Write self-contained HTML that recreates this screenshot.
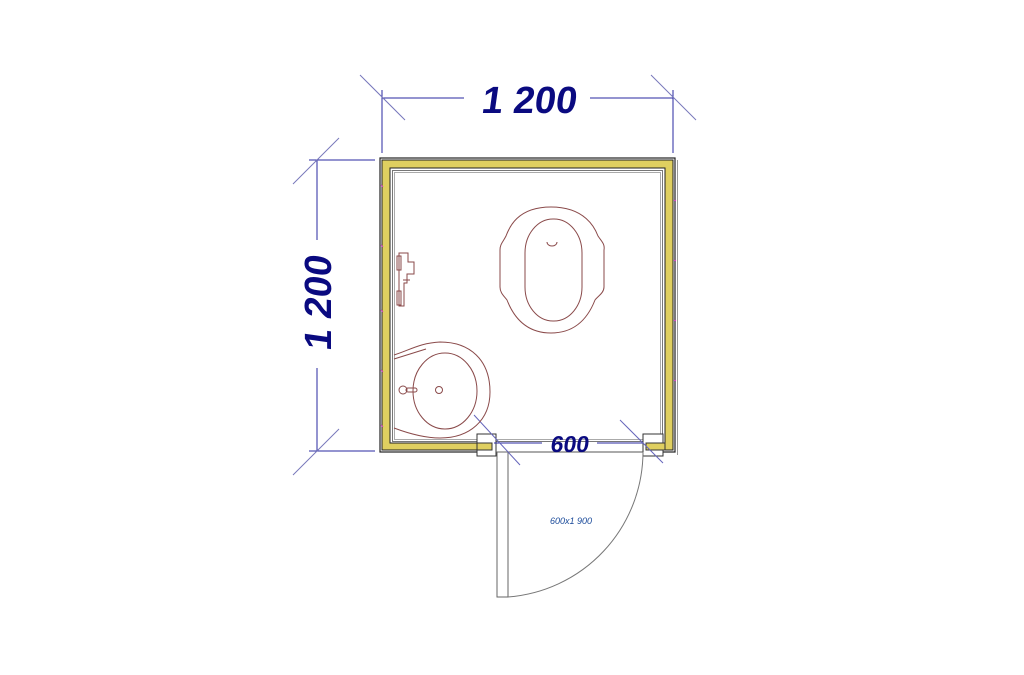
<!DOCTYPE html>
<html><head><meta charset="utf-8"><style>
html,body{margin:0;padding:0;background:#fff;width:1024px;height:675px;overflow:hidden}
svg{display:block}
.dim{font-family:"Liberation Sans",sans-serif;fill:#0a0a80;font-weight:bold}
</style></head><body>
<svg width="1024" height="675" viewBox="0 0 1024 675" xmlns="http://www.w3.org/2000/svg">
<!-- top dimension -->
<g stroke="#2a2aa0" stroke-width="1" fill="none">
<line x1="382" y1="98" x2="464" y2="98"/><line x1="590" y1="98" x2="673" y2="98"/>
<line x1="382" y1="90" x2="382" y2="153"/><line x1="673" y1="90" x2="673" y2="153"/>
<line x1="360" y1="75" x2="405" y2="120" stroke="#7777bb"/><line x1="651" y1="75" x2="696" y2="120" stroke="#7777bb"/>
<line x1="309" y1="160" x2="375" y2="160"/><line x1="309" y1="451" x2="375" y2="451"/>
<line x1="317" y1="160" x2="317" y2="240"/><line x1="317" y1="368" x2="317" y2="451"/>
<line x1="293" y1="184" x2="339" y2="138" stroke="#7777bb"/><line x1="293" y1="475" x2="339" y2="429" stroke="#7777bb"/>
</g>
<text class="dim" font-size="38" text-anchor="middle" transform="translate(528,113) skewX(-8)">1 200</text>
<text class="dim" font-size="38" text-anchor="middle" transform="translate(331,304) rotate(-90) skewX(-8)">1 200</text>

<!-- walls -->
<rect x="380" y="158" width="295" height="294" fill="#fff" stroke="#222" stroke-width="1.2"/>
<line x1="677.5" y1="160" x2="677.5" y2="455" stroke="#999"/>
<path d="M382,160 H673 V450 H645 V443 H665 V168 H390 V443 H492 V450 H382 Z" fill="#dfcf60" stroke="#222" stroke-width="1"/>
<rect x="392.5" y="170.5" width="270" height="271" fill="none" stroke="#777" stroke-width="1"/>
<rect x="394.5" y="172.5" width="266" height="267" fill="none" stroke="#aaa" stroke-width="1"/>
<!-- opening -->
<rect x="493" y="444" width="151" height="12" fill="#fff"/>
<rect x="477" y="434" width="19" height="22" fill="#fff" stroke="#333"/>
<rect x="477" y="443" width="15" height="7" fill="#dfcf60" stroke="#333"/>
<rect x="643" y="434" width="20" height="22" fill="#fff" stroke="#333"/>
<rect x="646" y="443" width="19" height="7" fill="#dfcf60" stroke="#333"/>
<line x1="496" y1="452" x2="643" y2="452" stroke="#555"/>

<!-- door -->
<rect x="497" y="452" width="11" height="145" fill="#fff" stroke="#666"/>
<path d="M508,597 A146,146 0 0 0 643,452" fill="none" stroke="#777" stroke-width="1"/>
<text x="571" y="524" font-family="Liberation Sans,sans-serif" font-size="9" font-style="italic" fill="#1a4a9a" text-anchor="middle">600x1 900</text>

<!-- 600 dimension -->
<g stroke="#2a2aa0" stroke-width="1">
<line x1="494" y1="443" x2="542" y2="443"/><line x1="597" y1="443" x2="643" y2="443"/>
<line x1="474" y1="415" x2="520" y2="465" stroke="#6666bb"/><line x1="620" y1="420" x2="663" y2="463" stroke="#6666bb"/>
</g>
<text class="dim" font-size="23" text-anchor="middle" transform="translate(569,452) skewX(-8)">600</text>

<!-- fixtures -->
<g fill="none" stroke="#8a4a4a" stroke-width="1">
<path d="M551,207 C585,207 595,228 598,236 C602,242 605,244 604,250 L604,287 C604,293 598,296 595,300 C588,318 575,333 551,333 C527,333 514,318 507,300 C504,296 500,293 500,287 L500,250 C500,244 503,242 506,236 C509,228 517,207 551,207 Z"/>
<rect x="525" y="219" width="57" height="102" rx="28" ry="34"/>
<path d="M547,242 A5,4 0 0 0 557,242"/>
<path d="M401,253 H408 V262 H414 V274 H407 V283 H404 V306 H399 V253 Z"/>
<rect x="397" y="256" width="4" height="14"/><rect x="397" y="291" width="4" height="14"/>
<line x1="403" y1="280" x2="410" y2="280"/>
<path d="M394,355 C410,350 420,343 440,342 C470,342 490,360 490,392 C490,420 470,438 440,438 C425,438 410,434 394,428"/>
<path d="M394,359 L426,349"/>
<ellipse cx="445" cy="391" rx="32" ry="38"/>
<circle cx="439" cy="390" r="3.5"/>
<circle cx="403" cy="390" r="4"/><rect x="406" y="388" width="11" height="4" rx="2"/>
</g>
<g stroke="#d040c0" stroke-width="1">
<line x1="381" y1="185" x2="383" y2="187"/><line x1="381" y1="245" x2="383" y2="247"/><line x1="381" y1="310" x2="383" y2="312"/><line x1="381" y1="370" x2="383" y2="372"/><line x1="381" y1="425" x2="383" y2="427"/>
<line x1="674" y1="200" x2="676" y2="201"/><line x1="674" y1="260" x2="676" y2="261"/><line x1="674" y1="320" x2="676" y2="321"/><line x1="674" y1="380" x2="676" y2="381"/>
</g>
</svg>
</body></html>
